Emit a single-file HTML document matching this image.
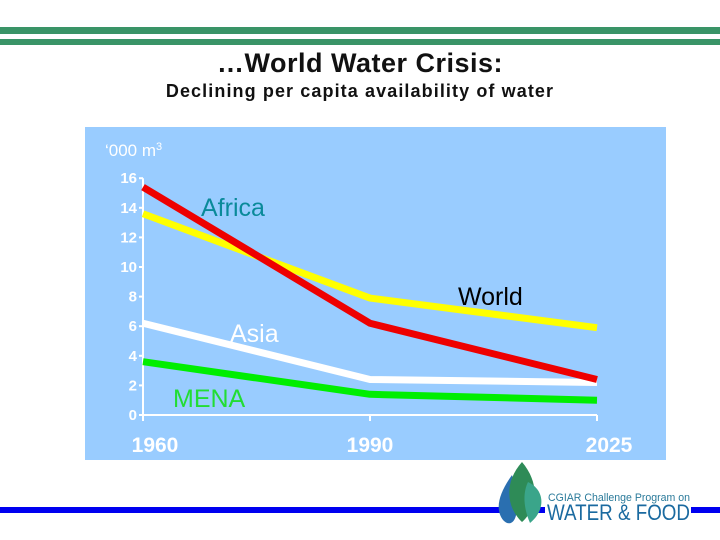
<!DOCTYPE html>
<html><head><meta charset="utf-8"><style>
body{margin:0;width:720px;height:540px;background:#fff;position:relative;overflow:hidden;font-family:"Liberation Sans",sans-serif}
.abs{position:absolute}
</style></head><body>
<div class="abs" style="left:0;top:27px;width:720px;height:7px;background:#3a9467"></div>
<div class="abs" style="left:0;top:39px;width:720px;height:6px;background:#3a9467"></div>
<div class="abs" style="left:0;top:48px;width:720px;text-align:center;font-size:27px;font-weight:bold;color:#111;letter-spacing:0.5px">…World Water Crisis:</div>
<div class="abs" style="left:0;top:81px;width:720px;text-align:center;font-size:18px;font-weight:bold;color:#111;letter-spacing:1.1px">Declining per capita availability of water</div>
<div class="abs" style="left:0;top:507px;width:720px;height:6px;background:#0000f0"></div>
<svg class="abs" style="left:0;top:0" width="720" height="540">
<rect x="85" y="127" width="581" height="333" fill="#99ccff"/>
<g id="axes"></g><g id="lines"></g>
<text x="105" y="156" font-size="17" fill="#fff">‘000 m<tspan font-size="11" dy="-6">3</tspan></text>
<text x="201" y="216" font-size="25" fill="#0a8a9a">Africa</text>
<text x="458" y="305" font-size="25" fill="#000">World</text>
<text x="230" y="342" font-size="25" fill="#fff">Asia</text>
<text x="173" y="407" font-size="25" fill="#22dd33">MENA</text>
</svg>
<svg class="abs" style="left:0;top:0" width="720" height="540">
<rect x="545" y="503" width="146" height="18" fill="#fff"/>
<path d="M512 475 C500 492 494 508 503 520 C512 530 524 518 512 475Z" fill="#2a6fb0"/>
<path d="M522 462 C504 482 506 507 522 522 C539 507 539 482 522 462Z" fill="#2e8b57"/>
<path d="M528 482 C545 490 546 510 530 523 C523 507 523 492 528 482Z" fill="#3aa58a"/>
<text x="548" y="501" font-size="11" fill="#2a7a9a" textLength="142" lengthAdjust="spacingAndGlyphs">CGIAR Challenge Program on</text>
<text x="547" y="520" font-size="22" fill="#1a6aa0" textLength="143" lengthAdjust="spacingAndGlyphs">WATER &amp; FOOD</text>
</svg>
<script>
const years=["1960","1990","2025"];
const yTicks=[0,2,4,6,8,10,12,14,16];
const africa=[15.4,6.2,2.4];
const world=[13.6,7.9,5.9];
const asia=[6.2,2.4,2.2];
const mena=[3.6,1.4,1.0];
const xPos=i=>[143,370,597][i];
const y=v=>415-v*14.8;
const NS="http://www.w3.org/2000/svg";
const ax=document.getElementById('axes'),ln=document.getElementById('lines');
function mk(p,tag,attrs){const e=document.createElementNS(NS,tag);for(const k in attrs)e.setAttribute(k,attrs[k]);p.appendChild(e);return e;}
let a=mk(ax,'path',{d:`M143 ${y(16)} V${y(0)} H597`,stroke:'#fff','stroke-width':2,fill:'none'});


yTicks.forEach(v=>{
 const t=mk(ax,'line',{x1:139,x2:143,y1:y(v),y2:y(v),stroke:'#fff','stroke-width':2});
 
 
 const l=mk(ax,'text',{x:137,y:y(v)+5,'text-anchor':'end','font-size':15,'font-weight':'bold',fill:'#fff'});l.textContent=v;
 
 
});
years.forEach((yr,i)=>{
 const t=mk(ax,'line',{x1:xPos(i),x2:xPos(i),y1:y(0),y2:y(0)+6,stroke:'#fff','stroke-width':2});
 
 
 const l=mk(ax,'text',{x:xPos(i)+(i==0?12:i==2?12:0),y:452,'text-anchor':'middle','font-size':21,'font-weight':'bold',fill:'#fff'});l.textContent=yr;
 
 
});
[[world,'#ffff00','line-world'],[asia,'#ffffff','line-asia'],[mena,'#00ee00','line-mena'],[africa,'#ee0000','line-africa']].forEach(([d,c,n])=>{
 const p=mk(ln,'polyline',{points:d.map((v,i)=>xPos(i)+','+y(v)).join(' '),stroke:c,'stroke-width':7,fill:'none','stroke-linejoin':'round'});
 
 
});
</script>
</body></html>
